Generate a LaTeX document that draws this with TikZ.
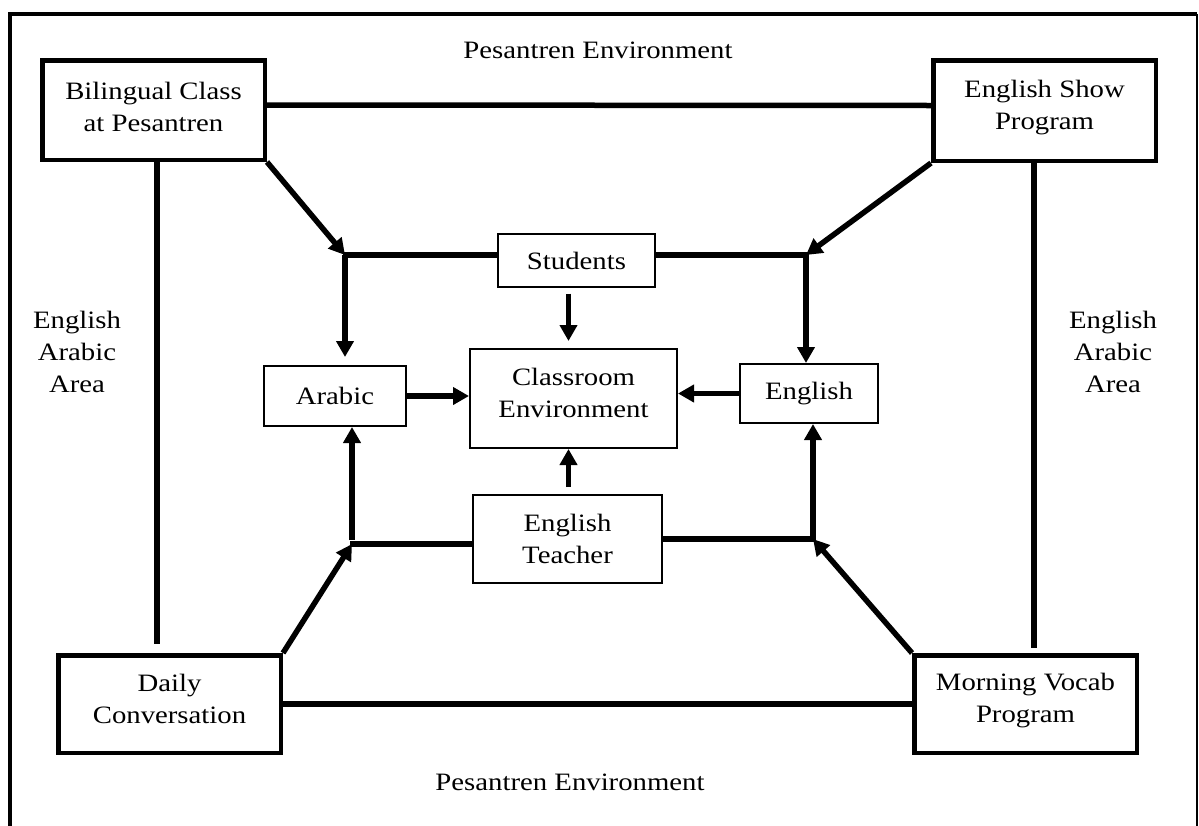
\documentclass[tikz,border=0pt]{standalone}
\usepackage{fontspec}
\setmainfont[FakeStretch=1.15]{Liberation Serif}
\usetikzlibrary{arrows.meta}
\tikzset{
  txt/.style={align=center, inner sep=0pt, font=\fontsize{25}{32}\selectfont},
  bigbox/.style={draw, line width=4.5pt, inner sep=0pt},
  smallbox/.style={draw, line width=2pt, inner sep=0pt},
  lbl/.style={txt},
  conn/.style={line width=5.5pt},
  arr/.style={line width=5.5pt, -{Triangle[length=16pt,width=17pt]}},
}
\begin{document}
\begin{tikzpicture}[x=1pt,y=-1pt]
\useasboundingbox (0,0) rectangle (1199,825);
\clip (0,0) rectangle (1199,825);
\fill[white] (0,0) rectangle (1199,825);
% outer frame
\draw[line width=4.5pt] (10,840) -- (10,14) -- (1197,14);
\draw[line width=2.5pt] (1197,14) -- (1197,840);

% big boxes
\node[bigbox, minimum width=222.5pt, minimum height=99.5pt,
  label={[txt,yshift=3pt]center:{Bilingual Class\\at Pesantren}}] (bil) at (153.5,110) {};
\node[bigbox, minimum width=222.5pt, minimum height=100.5pt,
  label={[txt,yshift=3pt]center:{English Show\\Program}}] (show) at (1044.5,110.5) {};
\node[bigbox, minimum width=222.5pt, minimum height=97.5pt,
  label={[txt,yshift=5pt]center:{Daily\\Conversation}}] (daily) at (169.5,704) {};
\node[bigbox, minimum width=222.5pt, minimum height=97.5pt,
  label={[txt,yshift=3pt]center:{Morning Vocab\\Program}}] (morning) at (1025.5,704) {};

% small boxes
\node[smallbox, minimum width=157pt, minimum height=53pt,
  label={[txt,yshift=-1pt]center:Students}] (students) at (576.5,260) {};
\node[smallbox, minimum width=142pt, minimum height=60pt,
  label={[txt]center:Arabic}] (arabic) at (335,396) {};
\node[smallbox, minimum width=207pt, minimum height=99pt,
  label={[txt,yshift=6pt]center:{Classroom\\Environment}}] (class) at (573.5,398.5) {};
\node[smallbox, minimum width=138pt, minimum height=59pt,
  label={[txt]center:English}] (english) at (809,393.5) {};
\node[smallbox, minimum width=189pt, minimum height=88pt,
  label={[txt]center:{English\\Teacher}}] (teacher) at (567.5,539) {};

% labels
\node[lbl] (ptop) at (598,50) {Pesantren Environment};
\node[lbl] (pbot) at (570,782) {Pesantren Environment};
\node[lbl] (aleft) at (77,352) {English\\Arabic\\Area};
\node[lbl] (aright) at (1113,352) {English\\Arabic\\Area};

% junction coordinates
\coordinate (lv) at (157,644);
\coordinate (rv) at (1034,648);
\coordinate (jtl) at (345,255);
\coordinate (jtr) at (806,255);
\coordinate (jbl) at (352,544);
\coordinate (jbr) at (813,539);

% outer connectors
\draw[conn] ([yshift=5pt]bil.east) -- ([yshift=5pt]show.west);
\draw[conn] (bil.south -| lv) -- (lv);
\draw[conn] (show.south -| rv) -- (rv);
\draw[conn] (daily.east) -- (morning.west);

% top left
\draw[arr] (bil.south east) -- (jtl);
\draw[conn] ([xshift=-2.5pt]jtl) -- (students.west |- jtl);
\draw[arr, shorten >=8pt] (jtl) -- (arabic.north -| jtl);
% top right
\draw[conn] (students.east |- jtr) -- ([xshift=2.5pt]jtr);
\draw[arr] (show.south west) -- (jtr);
\draw[arr] (jtr) -- (english.north -| jtr);
% students down
\draw[arr, shorten <=6pt, shorten >=7pt] ([xshift=-5pt]students.south -| class.north) -- ([xshift=-5pt]class.north);
% side arrows
\draw[arr] (arabic.east) -- (class.west |- arabic.east);
\draw[arr] (english.west) -- (class.east |- english.west);
% teacher up
\draw[arr, shorten <=7pt] ([xshift=-5pt]teacher.north -| class.south) -- ([xshift=-5pt]class.south);
% bottom left
\draw[conn] (teacher.west |- jbl) -- ([xshift=-2.5pt]jbl);
\draw[arr] (daily.north east) -- (jbl);
\draw[arr] ([yshift=4pt]jbl) -- (arabic.south -| jbl);
% bottom right
\draw[conn] (teacher.east |- jbr) -- ([xshift=2.5pt]jbr);
\draw[arr] (morning.north west) -- (jbr);
\draw[arr] (jbr) -- (english.south -| jbr);
\end{tikzpicture}
\end{document}
